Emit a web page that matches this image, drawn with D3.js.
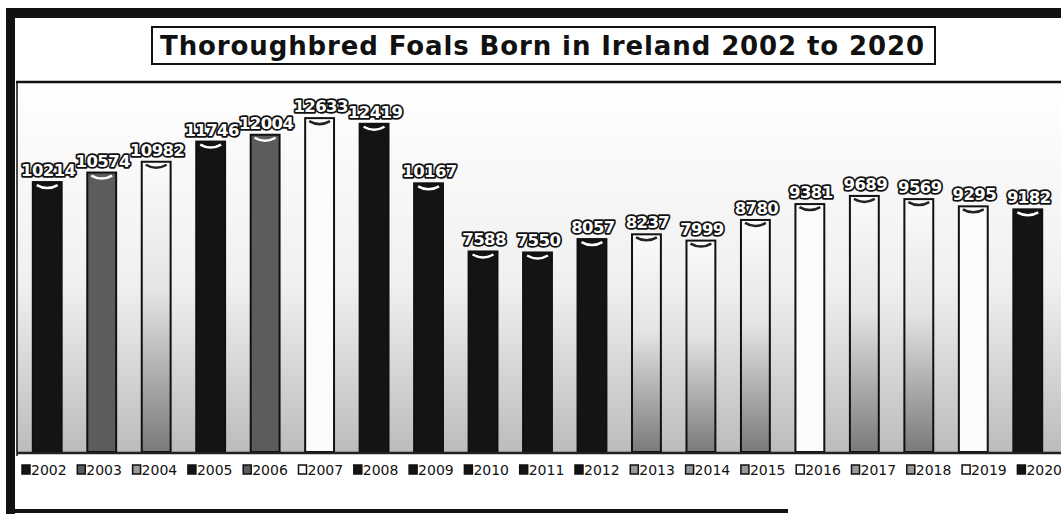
<!DOCTYPE html>
<html>
<head>
<meta charset="utf-8">
<script src="https://cdn.jsdelivr.net/npm/d3@7"></script>
<style>
  body { margin: 0; background: #fff; }
  svg { display: block; }
</style>
</head>
<body>
<div id="foalChart"></div>
<script>
// data
var years = ["2002","2003","2004","2005","2006","2007","2008","2009","2010","2011",
             "2012","2013","2014","2015","2016","2017","2018","2019","2020"];
var foals = [10214, 10574, 10982, 11746, 12004, 12633, 12419, 10167, 7588, 7550,
             8057, 8237, 7999, 8780, 9381, 9689, 9569, 9295, 9182];
var yTicks = [0, 14000];

// the scan turned the colours into black / grey / white, keep that look
var shade = ["dark","mid","fade","dark","mid","white","dark","dark","dark","dark",
             "dark","fade","fade","fade","white","fade","fade","white","dark"];

var width = 1061;
var height = 519;

var svg = d3.select("#foalChart")
            .append("svg")
            .attr("width", width)
            .attr("height", height);

var defs = svg.append("defs");

var bgGrad = defs.append("linearGradient")
    .attr("id", "plotBg").attr("x1", 0).attr("y1", 0).attr("x2", 0).attr("y2", 1);
bgGrad.append("stop").attr("offset", "0%").attr("stop-color", "#ffffff");
bgGrad.append("stop").attr("offset", "55%").attr("stop-color", "#f0f0f0");
bgGrad.append("stop").attr("offset", "100%").attr("stop-color", "#bcbcbc");

var fadeGrad = defs.append("linearGradient")
    .attr("id", "barFade").attr("x1", 0).attr("y1", 0).attr("x2", 0).attr("y2", 1);
fadeGrad.append("stop").attr("offset", "0%").attr("stop-color", "#fbfbfb");
fadeGrad.append("stop").attr("offset", "45%").attr("stop-color", "#e4e4e4");
fadeGrad.append("stop").attr("offset", "100%").attr("stop-color", "#7a7a7a");

var fills = { dark: "#141414", mid: "#5c5c5c", fade: "url(#barFade)", white: "#fbfbfb" };
var legendFills = { dark: "#141414", mid: "#5c5c5c", fade: "#9a9a9a", white: "#fbfbfb" };

// outer frame of the scanned page
svg.append("rect").attr("x", 6).attr("y", 8).attr("width", 1060).attr("height", 10).attr("fill", "#111");
svg.append("rect").attr("x", 6).attr("y", 8).attr("width", 9).attr("height", 506).attr("fill", "#111");
svg.append("rect").attr("x", 6).attr("y", 509).attr("width", 782).attr("height", 4).attr("fill", "#111");

// plot area
var x = d3.scaleBand()
          .domain(years)
          .range([20, 1055])
          .paddingInner(0.47)
          .paddingOuter(0.235);

var y = d3.scaleLinear()
          .domain(yTicks)
          .range([452, 82]);

svg.append("rect")
   .attr("x", 16).attr("y", y(14000))
   .attr("width", width - 16).attr("height", y(0) - y(14000))
   .attr("fill", "url(#plotBg)");

svg.append("line")
   .attr("x1", 16).attr("x2", width)
   .attr("y1", y(14000)).attr("y2", y(14000))
   .attr("stroke", "#111").attr("stroke-width", 2.5);

svg.append("line")
   .attr("x1", 17).attr("x2", 17)
   .attr("y1", y(14000)).attr("y2", y(0) + 4)
   .attr("stroke", "#111").attr("stroke-width", 1.5);

// title box
svg.append("rect")
   .attr("x", 152).attr("y", 27)
   .attr("width", 783).attr("height", 37)
   .attr("fill", "#fff")
   .attr("stroke", "#111").attr("stroke-width", 2);

svg.append("text")
   .attr("x", 160).attr("y", 55)
   .attr("textLength", 764)
   .attr("lengthAdjust", "spacing")
   .attr("font-family", "DejaVu Sans, Verdana, sans-serif")
   .attr("font-weight", "bold")
   .attr("font-size", "26px")
   .attr("fill", "#111")
   .text("Thoroughbred Foals Born in Ireland 2002 to 2020");

var barData = years.map(function(d, i){ return {year: d, value: foals[i], shade: shade[i]}; });

// bars
svg.selectAll("barRects")
   .data(barData)
   .enter()
   .append("rect")
   .attr("x", function(d){ return x(d.year); })
   .attr("y", function(d){ return y(d.value); })
   .attr("width", x.bandwidth())
   .attr("height", function(d){ return y(0) - y(d.value); })
   .attr("fill", function(d){ return fills[d.shade]; })
   .attr("stroke", "#111")
   .attr("stroke-width", 2);

// the little cylinder cap highlight on top of each bar
svg.selectAll("barCaps")
   .data(barData)
   .enter()
   .append("path")
   .attr("d", function(d){
       var x0 = x(d.year) + 4, x1 = x(d.year) + x.bandwidth() - 4, yt = y(d.value) + 3;
       return "M" + x0 + "," + yt + " Q" + (x0 + x1) / 2 + "," + (yt + 6) + " " + x1 + "," + yt;
   })
   .attr("fill", "none")
   .attr("stroke", function(d){ return d.shade == "dark" || d.shade == "mid" ? "#fff" : "#222"; })
   .attr("stroke-width", 2.5);

// baseline
svg.append("line")
   .attr("x1", 17).attr("x2", width)
   .attr("y1", y(0) + 1).attr("y2", y(0) + 1)
   .attr("stroke", "#222").attr("stroke-width", 2.5);

// value labels, white with a black outline
svg.selectAll("valueLabels")
   .data(barData)
   .enter()
   .append("text")
   .attr("x", function(d){ return x(d.year) + x.bandwidth() / 2 + 1; })
   .attr("y", function(d){ return y(d.value) - 6; })
   .attr("text-anchor", "middle")
   .attr("font-family", "DejaVu Sans, Verdana, sans-serif")
   .attr("font-weight", "bold")
   .attr("font-size", "16.5px")
   .attr("letter-spacing", "-0.6px")
   .attr("fill", "#fff")
   .attr("stroke", "#111")
   .attr("stroke-width", 3.5)
   .attr("stroke-linejoin", "round")
   .attr("paint-order", "stroke")
   .text(function(d){ return d.value; });

// legend along the bottom
var legend = svg.selectAll("legendItems")
   .data(barData)
   .enter()
   .append("g")
   .attr("transform", function(d, i){ return "translate(" + (22 + i * 55.3) + ",465)"; });

legend.append("rect")
   .attr("x", 0).attr("y", 0)
   .attr("width", 8).attr("height", 9)
   .attr("fill", function(d){ return legendFills[d.shade]; })
   .attr("stroke", "#111")
   .attr("stroke-width", 1.5);

legend.append("text")
   .attr("x", 9).attr("y", 10)
   .attr("font-family", "DejaVu Sans, Verdana, sans-serif")
   .attr("font-size", "14px")
   .attr("fill", "#111")
   .text(function(d){ return d.year; });
</script>
</body>
</html>
